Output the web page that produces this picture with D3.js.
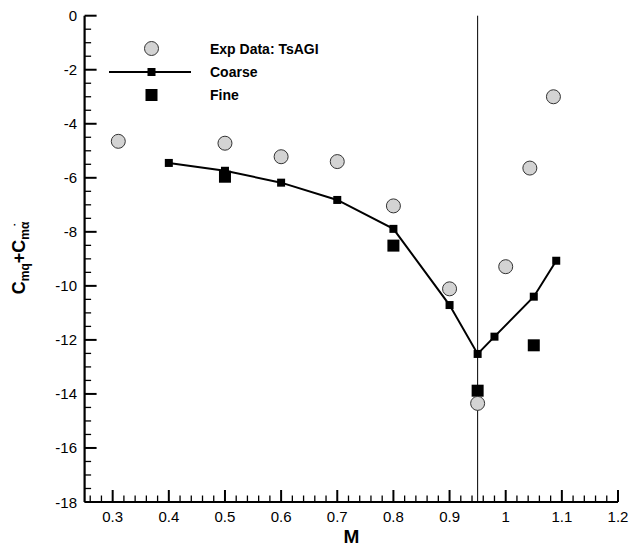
<!DOCTYPE html>
<html>
<head>
<meta charset="utf-8">
<script src="https://cdn.jsdelivr.net/npm/d3@7"></script>
<style>
body { margin: 0; background: #fff; }
svg { display: block; font-family: "Liberation Sans", Arial, sans-serif; }
</style>
</head>
<body>
<svg id="chart" width="630" height="547"></svg>
<script>
// Data
const expM = [0.31, 0.50, 0.60, 0.70, 0.80, 0.90, 0.95, 1.00, 1.043, 1.085];
const expC = [-4.65, -4.72, -5.22, -5.40, -7.04, -10.11, -14.35, -9.29, -5.64, -3.00];
const coarseM = [0.40, 0.50, 0.60, 0.70, 0.80, 0.90, 0.95, 0.98, 1.05, 1.09];
const coarseC = [-5.45, -5.74, -6.18, -6.82, -7.89, -10.71, -12.52, -11.88, -10.40, -9.07];
const fineM = [0.50, 0.80, 0.95, 1.05];
const fineC = [-5.96, -8.51, -13.88, -12.20];
const xTicks = [0.3, 0.4, 0.5, 0.6, 0.7, 0.8, 0.9, 1.0, 1.1, 1.2];
const yTicks = [0, -2, -4, -6, -8, -10, -12, -14, -16, -18];
const refLineM = 0.95;
const legendLabels = ["Exp Data: TsAGI", "Coarse", "Fine"];

const svg = d3.select("#chart");
const pL = 84.6, pR = 618, pT = 15.7, pB = 502;
const x = d3.scaleLinear().domain([0.25, 1.2]).range([pL, pR]);
const y = d3.scaleLinear().domain([-18, 0]).range([pB, pT]);

// minor ticks
const xMinor = d3.range(0.26, 1.2001, 0.02).filter(v => Math.abs(Math.round(v*10) - v*10) > 1e-6);
const yMinor = d3.range(-17.5, 0.001, 0.5).filter(v => Math.abs(Math.round(v/2)*2 - v) > 1e-6);

const gx = svg.append("g");
gx.selectAll("line.minor").data(xMinor).enter().append("line")
  .attr("x1", d => x(d)).attr("x2", d => x(d))
  .attr("y1", pB).attr("y2", pB - 6.5)
  .attr("stroke", "#000").attr("stroke-width", 1.3);
gx.selectAll("line.major").data(xTicks).enter().append("line")
  .attr("x1", d => x(d)).attr("x2", d => x(d))
  .attr("y1", pB).attr("y2", pB - 12)
  .attr("stroke", "#000").attr("stroke-width", 2);
gx.selectAll("text").data(xTicks).enter().append("text")
  .attr("x", d => x(d)).attr("y", 522)
  .attr("text-anchor", "middle").attr("font-size", 15)
  .text(d => d3.format("~g")(d));

const gy = svg.append("g");
gy.selectAll("line.minor").data(yMinor).enter().append("line")
  .attr("y1", d => y(d)).attr("y2", d => y(d))
  .attr("x1", pL).attr("x2", pL + 6.5)
  .attr("stroke", "#000").attr("stroke-width", 1.3);
gy.selectAll("line.major").data(yTicks).enter().append("line")
  .attr("y1", d => y(d)).attr("y2", d => y(d))
  .attr("x1", pL).attr("x2", pL + 12)
  .attr("stroke", "#000").attr("stroke-width", 2);
gy.selectAll("text").data(yTicks).enter().append("text")
  .attr("x", 77).attr("y", d => y(d) + 5.5)
  .attr("text-anchor", "end").attr("font-size", 15)
  .text(d => d);

// axis lines
svg.append("line").attr("x1", pL).attr("x2", pR).attr("y1", pB).attr("y2", pB)
  .attr("stroke", "#000").attr("stroke-width", 2.2);
svg.append("line").attr("x1", pL).attr("x2", pL).attr("y1", pT).attr("y2", pB)
  .attr("stroke", "#000").attr("stroke-width", 2.2);

// reference vertical line
svg.append("line").attr("x1", x(refLineM)).attr("x2", x(refLineM))
  .attr("y1", pT).attr("y2", pB).attr("stroke", "#000").attr("stroke-width", 1);

// axis titles
svg.append("text").attr("x", (pL + pR) / 2).attr("y", 543)
  .attr("text-anchor", "middle").attr("font-size", 19).attr("font-weight", "bold").text("M");

const yl = svg.append("text")
  .attr("transform", `translate(25,258) rotate(-90)`)
  .attr("text-anchor", "middle").attr("font-size", 18).attr("font-weight", "bold");
yl.append("tspan").text("C");
yl.append("tspan").attr("font-size", 12).attr("dy", 4).text("mq");
yl.append("tspan").attr("dy", -4).text("+C");
yl.append("tspan").attr("font-size", 12).attr("dy", 4).text("m\u03B1");
yl.append("tspan").attr("font-size", 12).attr("dx", -5).attr("dy", -6).text("\u02D9");

// coarse line
const coarse = coarseM.map((m, i) => [m, coarseC[i]]);
svg.append("path").datum(coarse)
  .attr("d", d3.line().x(d => x(d[0])).y(d => y(d[1])))
  .attr("fill", "none").attr("stroke", "#000").attr("stroke-width", 2);
svg.selectAll("rect.coarse").data(coarse).enter().append("rect")
  .attr("x", d => x(d[0]) - 4).attr("y", d => y(d[1]) - 4)
  .attr("width", 8).attr("height", 8).attr("fill", "#000");

// fine squares
const fine = fineM.map((m, i) => [m, fineC[i]]);
svg.selectAll("rect.fine").data(fine).enter().append("rect")
  .attr("x", d => x(d[0]) - 6).attr("y", d => y(d[1]) - 6)
  .attr("width", 12).attr("height", 12).attr("fill", "#000");

// exp circles
const exp = expM.map((m, i) => [m, expC[i]]);
svg.selectAll("circle.exp").data(exp).enter().append("circle")
  .attr("cx", d => x(d[0])).attr("cy", d => y(d[1])).attr("r", 7)
  .attr("fill", "#d3d3d3").attr("stroke", "#333").attr("stroke-width", 1);

// legend
const lg = svg.append("g");
lg.append("circle").attr("cx", 151.5).attr("cy", 48.5).attr("r", 7)
  .attr("fill", "#d3d3d3").attr("stroke", "#333").attr("stroke-width", 1);
lg.append("line").attr("x1", 109).attr("x2", 191).attr("y1", 72).attr("y2", 72)
  .attr("stroke", "#000").attr("stroke-width", 2);
lg.append("rect").attr("x", 147.5).attr("y", 68).attr("width", 8).attr("height", 8).attr("fill", "#000");
lg.append("rect").attr("x", 145.5).attr("y", 89).attr("width", 12).attr("height", 12).attr("fill", "#000");
const ly = [48.5, 72, 95];
lg.selectAll("text").data(legendLabels).enter().append("text")
  .attr("x", 210).attr("y", (d, i) => ly[i] + 5)
  .attr("font-size", 14).attr("font-weight", "bold").text(d => d);
</script>
</body>
</html>
